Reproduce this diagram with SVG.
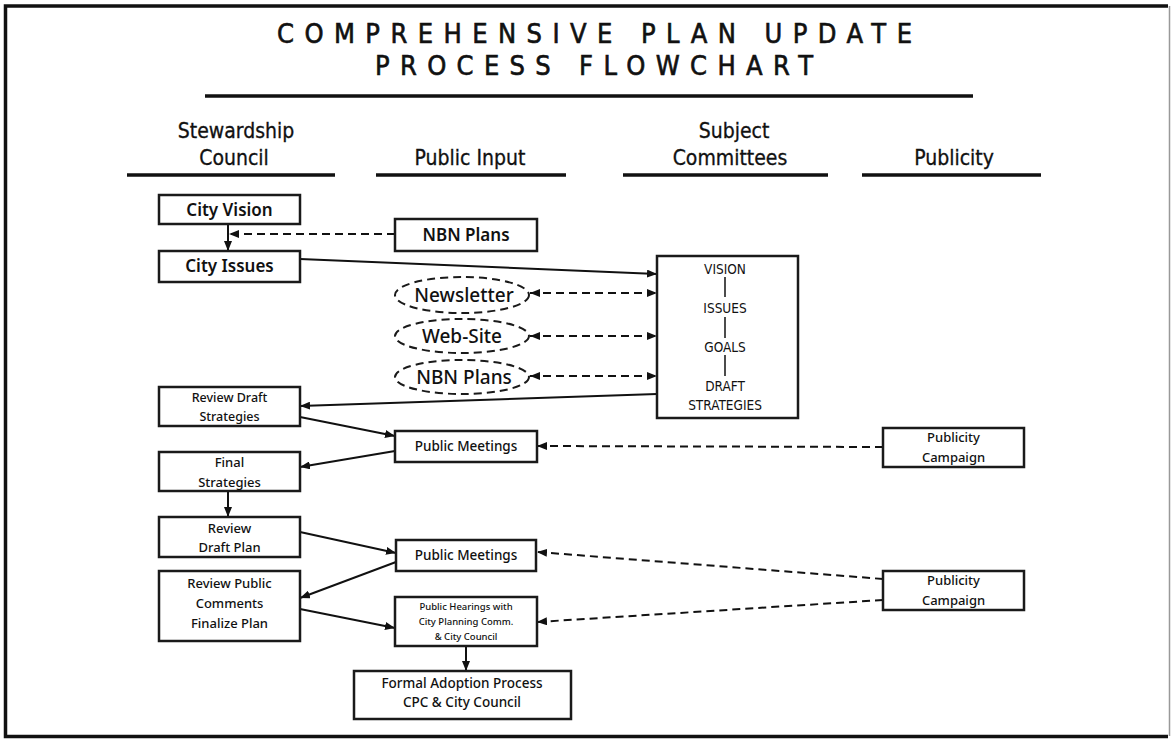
<svg xmlns="http://www.w3.org/2000/svg" width="1172" height="740" viewBox="0 0 1172 740">
<style>
  .box{fill:#fff;stroke:#1a1a1a;stroke-width:2.5}
  .ell{fill:#fff;stroke:#1a1a1a;stroke-width:2;stroke-dasharray:8 5}
  .t{font-family:"Noto Sans","DejaVu Sans",sans-serif;fill:#111;text-anchor:middle;font-weight:500}
  .tb{font-weight:600}
  .title{font-family:"DejaVu Sans Condensed","Liberation Sans Narrow",sans-serif;font-size:27px;fill:#111;stroke:#111;stroke-width:0.6;text-anchor:start}
  .hdr{font-family:"DejaVu Sans Condensed","Liberation Sans Narrow",sans-serif;font-size:21px;fill:#111;stroke:#111;stroke-width:0.3;text-anchor:middle}
  .sc{font-family:"DejaVu Sans Condensed","Liberation Sans Narrow",sans-serif;font-size:13.5px;fill:#111;text-anchor:middle}
  .rule{stroke:#111;stroke-width:3.5}
  .c{stroke:#111;stroke-width:2;fill:none}
  .d{stroke:#111;stroke-width:2;fill:none;stroke-dasharray:8 5}
</style>
<defs>
  <marker id="ah" markerUnits="userSpaceOnUse" markerWidth="10" markerHeight="8" refX="10" refY="4" orient="auto-start-reverse">
    <path d="M0,0 L10,4 L0,8 z" fill="#111"/>
  </marker>
</defs>
<rect width="1172" height="740" fill="#fff"/>
<g id="frame">
  <path d="M1168,6 H5.5 V736.5 H1168" fill="none" stroke="#111" stroke-width="3.5"/>
  <line x1="1169.5" y1="6" x2="1169.5" y2="736" stroke="#999" stroke-width="1.5"/>
</g>
<g id="title">
  <text class="title" x="277" y="43" textLength="635" lengthAdjust="spacing">COMPREHENSIVE PLAN UPDATE</text>
  <text class="title" x="375" y="75" textLength="438" lengthAdjust="spacing">PROCESS FLOWCHART</text>
  <line class="rule" x1="205" y1="96" x2="973" y2="96"/>
</g>
<g id="headers">
  <text class="hdr" x="236" y="138">Stewardship</text>
  <text class="hdr" x="234" y="165">Council</text>
  <line class="rule" x1="127" y1="175" x2="335" y2="175"/>
  <text class="hdr" x="470" y="165">Public Input</text>
  <line class="rule" x1="376" y1="175" x2="566" y2="175"/>
  <text class="hdr" x="734" y="138">Subject</text>
  <text class="hdr" x="730" y="165">Committees</text>
  <line class="rule" x1="623" y1="175" x2="828" y2="175"/>
  <text class="hdr" x="954" y="165">Publicity</text>
  <line class="rule" x1="862" y1="175" x2="1041" y2="175"/>
</g>
<g id="connectors">
  <line class="c" x1="228" y1="224" x2="228" y2="251" marker-end="url(#ah)"/>
  <line class="d" x1="395" y1="234" x2="229" y2="234" marker-end="url(#ah)"/>
  <line class="c" x1="300" y1="259" x2="657" y2="274" marker-end="url(#ah)"/>
  <line class="d" x1="530" y1="293" x2="657" y2="293" marker-start="url(#ah)" marker-end="url(#ah)"/>
  <line class="d" x1="530" y1="336" x2="657" y2="336" marker-start="url(#ah)" marker-end="url(#ah)"/>
  <line class="d" x1="530" y1="376" x2="657" y2="376" marker-start="url(#ah)" marker-end="url(#ah)"/>
  <line class="c" x1="657" y1="394" x2="300" y2="406" marker-end="url(#ah)"/>
  <line class="c" x1="300" y1="417" x2="395" y2="436" marker-end="url(#ah)"/>
  <line class="c" x1="395" y1="451" x2="300" y2="467" marker-end="url(#ah)"/>
  <line class="c" x1="228" y1="491" x2="228" y2="517" marker-end="url(#ah)"/>
  <line class="c" x1="300" y1="532" x2="396" y2="553" marker-end="url(#ah)"/>
  <line class="c" x1="396" y1="562" x2="300" y2="598" marker-end="url(#ah)"/>
  <line class="c" x1="300" y1="609" x2="395" y2="628" marker-end="url(#ah)"/>
  <line class="c" x1="466" y1="646" x2="466" y2="671" marker-end="url(#ah)"/>
  <line class="d" x1="883" y1="447" x2="537" y2="446" marker-end="url(#ah)"/>
  <line class="d" x1="883" y1="579" x2="537" y2="552" marker-end="url(#ah)"/>
  <line class="d" x1="883" y1="600" x2="537" y2="622" marker-end="url(#ah)"/>
</g>
<g id="city-vision">
  <rect class="box" x="159" y="195" width="141" height="29"/>
  <text class="t tb" x="229.5" y="216" font-size="17">City Vision</text>
</g>
<g id="nbn-plans">
  <rect class="box" x="395" y="219" width="142" height="32"/>
  <text class="t tb" x="466" y="241" font-size="17">NBN Plans</text>
</g>
<g id="city-issues">
  <rect class="box" x="159" y="251" width="141" height="31"/>
  <text class="t tb" x="229.5" y="272" font-size="17">City Issues</text>
</g>
<g id="newsletter">
  <ellipse class="ell" cx="462" cy="295" rx="67" ry="18"/>
  <text class="t" x="464" y="302" font-size="19">Newsletter</text>
</g>
<g id="web-site">
  <ellipse class="ell" cx="462" cy="336" rx="67" ry="17"/>
  <text class="t" x="462" y="343" font-size="19">Web-Site</text>
</g>
<g id="nbn-plans-2">
  <ellipse class="ell" cx="462" cy="377" rx="67" ry="17"/>
  <text class="t" x="464" y="384" font-size="19">NBN Plans</text>
</g>
<g id="subject-committees">
  <rect class="box" x="657" y="256" width="141" height="162"/>
  <text class="sc" x="725" y="274">VISION</text>
  <line x1="725" y1="277" x2="725" y2="297" stroke="#111" stroke-width="1.5"/>
  <text class="sc" x="725" y="313">ISSUES</text>
  <line x1="725" y1="317" x2="725" y2="338" stroke="#111" stroke-width="1.5"/>
  <text class="sc" x="725" y="352">GOALS</text>
  <line x1="725" y1="355" x2="725" y2="376" stroke="#111" stroke-width="1.5"/>
  <text class="sc" x="725" y="391">DRAFT</text>
  <text class="sc" x="725" y="410">STRATEGIES</text>
</g>
<g id="review-draft-strategies">
  <rect class="box" x="159" y="387" width="141" height="39"/>
  <text class="t" x="229.5" y="402" font-size="12.5">Review Draft</text>
  <text class="t" x="229.5" y="421" font-size="12.5">Strategies</text>
</g>
<g id="public-meetings-1">
  <rect class="box" x="395" y="431" width="142" height="31"/>
  <text class="t" x="466" y="451" font-size="13.5">Public Meetings</text>
</g>
<g id="publicity-campaign-1">
  <rect class="box" x="883" y="428" width="141" height="39"/>
  <text class="t" x="953.5" y="442" font-size="13">Publicity</text>
  <text class="t" x="953.5" y="462" font-size="13">Campaign</text>
</g>
<g id="final-strategies">
  <rect class="box" x="159" y="452" width="141" height="39"/>
  <text class="t" x="229.5" y="467" font-size="13">Final</text>
  <text class="t" x="229.5" y="487" font-size="13">Strategies</text>
</g>
<g id="review-draft-plan">
  <rect class="box" x="159" y="517" width="141" height="40"/>
  <text class="t" x="229.5" y="533" font-size="13">Review</text>
  <text class="t" x="229.5" y="552" font-size="13">Draft Plan</text>
</g>
<g id="public-meetings-2">
  <rect class="box" x="396" y="540" width="140" height="31"/>
  <text class="t" x="466" y="560" font-size="13.5">Public Meetings</text>
</g>
<g id="publicity-campaign-2">
  <rect class="box" x="883" y="571" width="141" height="39"/>
  <text class="t" x="953.5" y="585" font-size="13">Publicity</text>
  <text class="t" x="953.5" y="605" font-size="13">Campaign</text>
</g>
<g id="review-public-comments">
  <rect class="box" x="159" y="571" width="141" height="70"/>
  <text class="t" x="229.5" y="588" font-size="13">Review Public</text>
  <text class="t" x="229.5" y="608" font-size="13">Comments</text>
  <text class="t" x="229.5" y="628" font-size="13">Finalize Plan</text>
</g>
<g id="public-hearings">
  <rect class="box" x="395" y="597" width="142" height="49"/>
  <text class="t" x="466" y="609.5" font-size="9.5">Public Hearings with</text>
  <text class="t" x="466" y="624.5" font-size="9.5">City Planning Comm.</text>
  <text class="t" x="466" y="639.5" font-size="9.5">&amp; City Council</text>
</g>
<g id="formal-adoption">
  <rect class="box" x="354" y="671" width="217" height="48"/>
  <text class="t" x="462" y="688" font-size="13.5">Formal Adoption Process</text>
  <text class="t" x="462" y="707" font-size="13.5">CPC &amp; City Council</text>
</g>
</svg>
